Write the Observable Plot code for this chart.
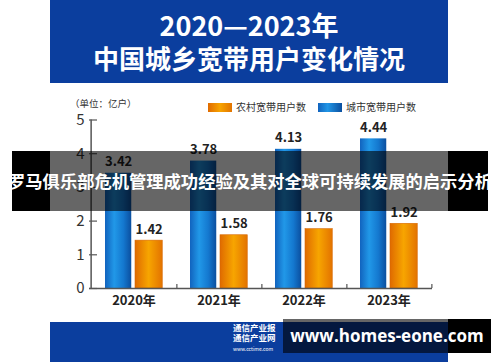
<!DOCTYPE html>
<html>
<head>
<meta charset="utf-8">
<script src="https://cdn.jsdelivr.net/npm/d3@7"></script>
<script src="https://cdn.jsdelivr.net/npm/@observablehq/plot@0.6"></script>
<style>
  html, body { margin: 0; padding: 0; background: #fff; }
  body { width: 500px; height: 362px; overflow: hidden; font-family: "Noto Sans CJK SC", "Noto Sans", sans-serif; }
  #wrap { position: relative; width: 500px; height: 362px; }
  #chart { position: absolute; left: 0; top: 0; }
  .abs { position: absolute; }
  .header { left: 50px; top: 0; width: 398px; height: 83px; background: #0b3e9e; color: #fff; text-align: center; font-weight: bold; }
  .t1 { position: absolute; left: 0; width: 100%; top: 10px; font-size: 27px; line-height: 29px; }
  .t2 { position: absolute; left: 0; width: 100%; top: 43px; font-size: 26px; line-height: 29px; }
  .unit { left: 70px; top: 97px; font-size: 9.5px; color: #333; line-height: 12px; }
  .leg { top: 101px; font-size: 10px; color: #333; line-height: 12px; white-space: nowrap; }
  .sw { display: inline-block; width: 24px; height: 9px; vertical-align: -1px; margin-right: 4px; }
  .bandTxt { left: 0; top: 151px; width: 500px; height: 60px; line-height: 60px; text-align: center; color: #fff; font-weight: bold; font-size: 17.3px; white-space: nowrap; }
  .footer { left: 50px; top: 322px; width: 398px; height: 40px; background: #0b3e9e; }
  .logo { left: 233px; top: 322px; color: #fff; font-weight: bold; font-size: 8.5px; line-height: 10px; white-space: nowrap; }
  .wmTxt { left: 283px; top: 319px; width: 208px; height: 34px; line-height: 34px; text-align: center; color: #fff; font-weight: bold; font-size: 17px; white-space: nowrap; font-family: "Open Sans", "DejaVu Sans", sans-serif; }
</style>
</head>
<body>
<div id="wrap">
  <div id="chart"></div>
  <div class="abs header"><div class="t1">2020—2023年</div><div class="t2">中国城乡宽带用户变化情况</div></div>
  <div class="abs unit">（单位：亿户）</div>
  <div class="abs leg" style="left:208px"><span class="sw" style="background:linear-gradient(90deg,#e06a00,#f7a400 50%,#e27400)"></span>农村宽带用户数</div>
  <div class="abs leg" style="left:318px"><span class="sw" style="background:linear-gradient(90deg,#1163be,#2196e6 40%,#0b4f9f)"></span>城市宽带用户数</div>
  <div class="abs" style="left:12px;top:151px;width:38px;height:60px;background:#000;"></div>
  <div class="abs" style="left:448px;top:151px;width:40px;height:60px;background:#000;"></div>
  <div class="abs" style="left:50px;top:151px;width:398px;height:60px;background:rgba(0,0,0,0.6);"></div>
  <div class="abs bandTxt">罗马俱乐部危机管理成功经验及其对全球可持续发展的启示分析</div>
  <div class="abs footer"></div>
  <div class="abs logo">通信产业报<br>通信产业网<br><span style="font-size:5px;font-weight:normal;line-height:6px">www.cctime.com</span></div>
  <div class="abs" style="left:448px;top:319px;width:43px;height:34px;background:#000;"></div>
  <div class="abs" style="left:283px;top:319px;width:165px;height:34px;background:rgba(0,0,0,0.6);"></div>
  <div class="abs wmTxt">www.homes-eone.com</div>
</div>
<script>
const years = ["2020", "2021", "2022", "2023"];
const rural = [1.42, 1.58, 1.76, 1.92];
const urban = [3.42, 3.78, 4.13, 4.44];
const yTicks = [0, 1, 2, 3, 4, 5];

const urbanData = years.map((y, i) => ({year: y, value: urban[i]}));
const ruralData = years.map((y, i) => ({year: y, value: rural[i]}));

const defs = () => {
  const d = d3.create("svg:defs");
  const gb = d.append("linearGradient").attr("id", "gBlue").attr("x1", "0").attr("x2", "1").attr("y1", "0").attr("y2", "0");
  [[0, "#1163be"], [0.35, "#2198e8"], [0.7, "#1478cf"], [1, "#0b4f9f"]].forEach(([o, c]) => gb.append("stop").attr("offset", o).attr("stop-color", c));
  const go = d.append("linearGradient").attr("id", "gOrange").attr("x1", "0").attr("x2", "1").attr("y1", "0").attr("y2", "0");
  [[0, "#df6a00"], [0.5, "#f7a500"], [1, "#e37300"]].forEach(([o, c]) => go.append("stop").attr("offset", o).attr("stop-color", c));
  return d.node();
};

const step = (500 - 89 - 68) / years.length;

const chart = Plot.plot({
  width: 500,
  height: 362,
  marginTop: 119.5,
  marginBottom: 74,
  marginLeft: 89,
  marginRight: 68,
  style: {background: "transparent", fontFamily: "\"Noto Sans CJK SC\", sans-serif", overflow: "visible"},
  x: {type: "band", domain: years, padding: 0, axis: null},
  y: {domain: [0, 5], axis: null},
  marks: [
    defs,
    Plot.barY(urbanData, {x: "year", y: "value", fill: "url(#gBlue)", insetLeft: 14, insetRight: step - 41}),
    Plot.barY(ruralData, {x: "year", y: "value", fill: "url(#gOrange)", stroke: "#d86800", strokeWidth: 0.6, insetLeft: 44, insetRight: step - 72}),
    Plot.text(urbanData, {x: "year", y: "value", text: d => d.value.toFixed(2), dx: 27.5 - step / 2, dy: -11, fontSize: 13, fontWeight: "bold", fill: "#222"}),
    Plot.text(ruralData, {x: "year", y: "value", text: d => d.value.toFixed(2), dx: 58 - step / 2, dy: -11, fontSize: 13, fontWeight: "bold", fill: "#222"}),
    Plot.ruleY([0], {stroke: "#555", strokeWidth: 1.5}),
    Plot.ruleX([years[0]], {x: d => d, y1: 0, y2: 5, dx: -step / 2, stroke: "#555", strokeWidth: 1.5}),
    Plot.ruleX(years, {x: d => d, y1: 0, y2: 0.12, dx: step / 2, stroke: "#555", strokeWidth: 1.2}),
    Plot.tickY(yTicks, {y: d => d, insetRight: 500 - 89 - 68 - 8, stroke: "#555", strokeWidth: 1.2}),
    Plot.axisY({ticks: yTicks, tickSize: 0, tickPadding: 5, tickFormat: d => String(d), fontSize: 15, fill: "#333", label: null}),
    Plot.axisX({tickSize: 0, tickPadding: 7, tickFormat: d => d + "年", fontSize: 13, fontWeight: "bold", fill: "#222", label: null})
  ]
});
document.getElementById("chart").appendChild(chart);
</script>
</body>
</html>
